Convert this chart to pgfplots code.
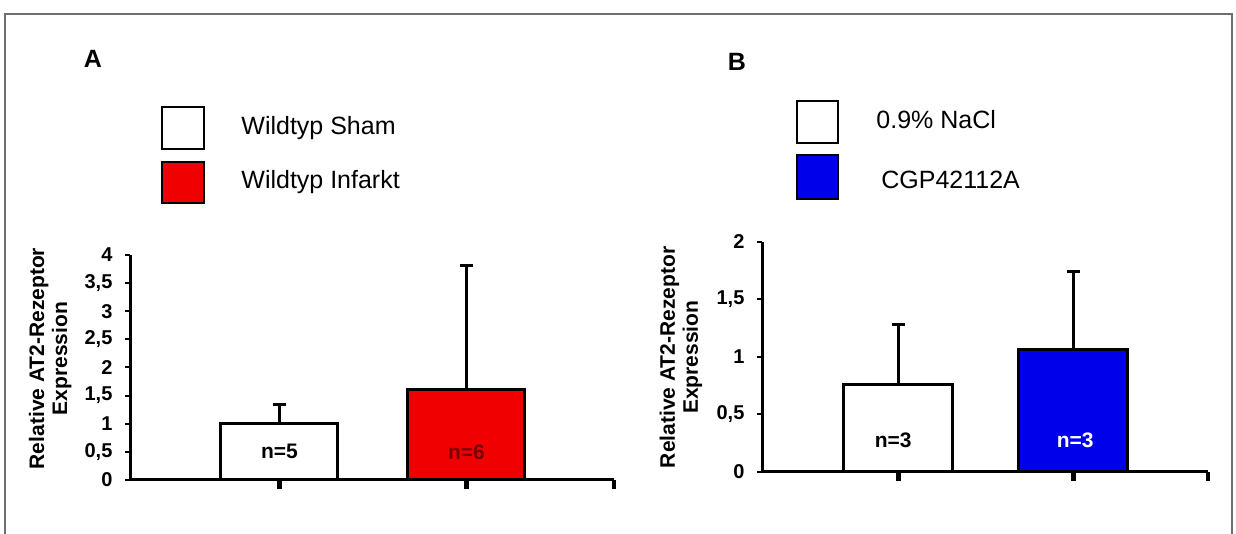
\documentclass[border=0pt]{standalone}
\usepackage{pgfplots}
\pgfplotsset{compat=1.18}
\usepackage{fontspec}
\setmainfont{Liberation Sans}
\definecolor{barred}{RGB}{240,0,0}
\definecolor{barblue}{RGB}{0,0,235}
\definecolor{darkredtxt}{RGB}{120,0,0}
\definecolor{framegray}{RGB}{110,110,110}
\begin{document}
\begin{tikzpicture}
\useasboundingbox (0,0) rectangle (618pt,267pt);
% frame
\draw[framegray, line width=1pt] (2.5pt,0pt) -- (2.5pt,260pt) -- (616pt,260pt) -- (616pt,0pt);
% panel letters
\node[font=\bfseries\fontsize{12.5}{15}\selectfont] at (46.5pt,237.5pt) {A};
\node[font=\bfseries\fontsize{12.5}{15}\selectfont] at (368.5pt,236pt) {B};
% legend A
\draw[black, line width=0.9pt, fill=white] (81pt,192.5pt) rectangle (102pt,213.5pt);
\draw[black, line width=0.9pt, fill=barred] (81pt,165.5pt) rectangle (102pt,186pt);
\node[anchor=west, inner sep=0pt, font=\fontsize{12.5}{15}\selectfont] at (120.5pt,203pt) {Wildtyp Sham};
\node[anchor=west, inner sep=0pt, font=\fontsize{12.5}{15}\selectfont] at (120.5pt,176pt) {Wildtyp Infarkt};
% legend B
\draw[black, line width=0.9pt, fill=white] (398.5pt,195.5pt) rectangle (419pt,216.5pt);
\draw[black, line width=0.9pt, fill=barblue] (398.5pt,167.5pt) rectangle (419pt,189.5pt);
\node[anchor=west, inner sep=0pt, font=\fontsize{12.5}{15}\selectfont] at (438pt,207pt) {0.9\% NaCl};
\node[anchor=west, inner sep=0pt, font=\fontsize{12.5}{15}\selectfont] at (440.5pt,177pt) {CGP42112A};

\pgfplotsset{
  myaxis/.style={
    scale only axis, anchor=south west,
    axis x line*=bottom, axis y line*=left,
    axis line style={line width=1.5pt, black},
    ymin=0,
    xticklabels={},
    tick align=outside,
    xtick style={line width=2.4pt, black, /pgfplots/major tick length=4.5pt},
    ytick style={line width=1pt, black, /pgfplots/major tick length=2.5pt},
    tick label style={font=\bfseries\fontsize{10}{12}\selectfont},
    yticklabel style={xshift=-1pt},
    ylabel={Relative AT2-Rezeptor\\Expression},
    ylabel style={align=center, anchor=center, font=\bfseries\fontsize{10.5}{11.5}\selectfont},
    clip=false,
  },
  mybar/.style={ybar, bar shift=0pt, draw=black, line width=1.5pt,
    error bars/y dir=plus, error bars/y explicit,
    error bars/error bar style={line width=1.5pt, black},
    error bars/error mark options={rotate=90, line width=1.5pt, mark size=3.25pt, black}},
}

% Panel A
\begin{axis}[myaxis,
  at={(65pt,27pt)}, width=242pt, height=112.5pt,
  xmin=0.2005, xmax=2.789, ymax=4,
  xtick={1,2,2.789},
  ytick={0,0.5,1,1.5,2,2.5,3,3.5,4},
  yticklabels={0,{0,5},1,{1,5},2,{2,5},3,{3,5},4},
  ylabel style={at={(axis description cs:-0.165,0.54)}},
]
\addplot[mybar, fill=white, bar width=58.5pt] coordinates {(1,1.0) +- (0,0.35)};
\addplot[mybar, fill=barred, bar width=58.5pt] coordinates {(2,1.6) +- (0,2.22)};
\node[font=\bfseries\fontsize{10.5}{12}\selectfont] at (axis cs:1,0.5) {n=5};
\node[font=\bfseries\fontsize{10.5}{12}\selectfont, text=darkredtxt] at (axis cs:2,0.5) {n=6};
\end{axis}

% Panel B
\begin{axis}[myaxis,
  at={(381pt,31.15pt)}, width=223pt, height=115pt,
  xmin=0.22, xmax=2.769, ymax=2,
  xtick={1,2,2.769},
  ytick={0,0.5,1,1.5,2},
  yticklabels={0,{0,5},1,{1,5},2},
  ylabel style={at={(axis description cs:-0.182,0.497)}},
]
\addplot[mybar, fill=white, bar width=54.5pt] coordinates {(1,0.76) +- (0,0.52)};
\addplot[mybar, fill=barblue, bar width=54.5pt] coordinates {(2,1.06) +- (0,0.68)};
\node[font=\bfseries\fontsize{10.5}{12}\selectfont] at (axis cs:0.97,0.275) {n=3};
\node[font=\bfseries\fontsize{10.5}{12}\selectfont, text=white] at (axis cs:2.01,0.275) {n=3};
\end{axis}
\end{tikzpicture}
\end{document}
